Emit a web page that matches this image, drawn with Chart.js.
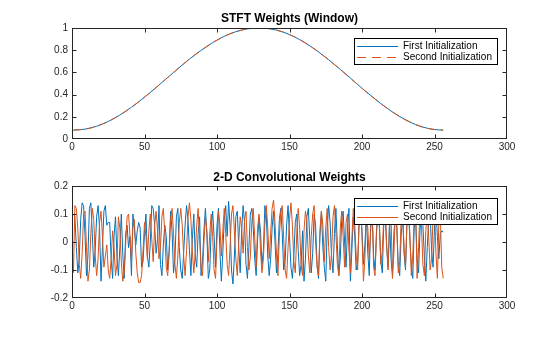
<!DOCTYPE html>
<html>
<head>
<meta charset="utf-8">
<script src="https://cdn.jsdelivr.net/npm/chart.js@4.4.1/dist/chart.umd.min.js"></script>
<style>
  html, body { margin: 0; padding: 0; background: #fff; }
  #wrap { position: relative; width: 560px; height: 337px; }
  canvas { position: absolute; left: 0; }
</style>
</head>
<body>
<div id="wrap">
  <canvas id="topChart" width="560" height="168" style="top:0"></canvas>
  <canvas id="bottomChart" width="560" height="169" style="top:168px"></canvas>
</div>
<script>
// window weights (sample index -> weight)
const windowX = [1, 9, 17, 25, 33, 41, 49, 57, 65, 73, 81, 89, 97, 105, 113, 121, 129,
  137, 145, 153, 161, 169, 177, 185, 193, 201, 209, 217, 225, 233, 241, 249, 256];
const windowVals = [0.08, 0.089, 0.115, 0.158, 0.216, 0.286, 0.366, 0.452, 0.543, 0.633, 0.72, 0.798, 0.868, 0.925, 0.967, 0.992, 1.0,
  0.992, 0.966, 0.923, 0.865, 0.794, 0.714, 0.627, 0.537, 0.446, 0.36, 0.28, 0.21, 0.153, 0.111, 0.087, 0.08];

// conv weights, first initialization (blue)
const convFirst = [
  0.10, 0.09, -0.02, -0.11, -0.06, 0.08, 0.14, 0.13, 0.02, -0.12, -0.05, 0.12, 0.14, 0.03, -0.09, -0.03,
  0.09, 0.13, 0.05, -0.14, -0.02, 0.11, 0.13, 0.06, 0.07, 0.07, -0.06, -0.13, 0.02, 0.09, -0.05, -0.12,
  -0.02, 0.10, -0.04, -0.13, 0.03, 0.06, -0.02, 0.02, -0.12, 0.10, 0.05, -0.01, 0.04, 0.07, 0.05, -0.09,
  -0.07, 0.03, 0.10, -0.05, -0.09, 0.00, 0.13, 0.12, 0.06, -0.04, 0.01, 0.13, -0.08, -0.12, -0.01, 0.06,
  0.02, -0.10, -0.03, 0.11, 0.04, -0.11, -0.06, 0.09, 0.12, -0.02, -0.10, -0.13, -0.04, 0.06, 0.13, 0.08,
  -0.03, -0.12, 0.01, 0.10, -0.05, -0.09, 0.03, 0.09, -0.12, -0.07, 0.04, 0.12, 0.03, -0.13, -0.10, 0.05,
  0.11, 0.02, -0.09, 0.06, 0.12, -0.03, -0.14, -0.04, 0.08, 0.13, 0.02, 0.145, 0.06, -0.10, -0.15, -0.05,
  0.09, 0.11, -0.02, -0.11, 0.04, 0.13, 0.07, -0.08, -0.13, -0.02, 0.10, 0.12, 0.05, -0.06, -0.12, 0.01,
  0.09, 0.04, -0.08, -0.03, 0.13, 0.10, -0.05, -0.12, -0.06, 0.05, 0.11, 0.00, -0.11, -0.04, 0.08, 0.12,
  0.03, -0.10, -0.07, 0.06, 0.13, 0.02, -0.09, -0.13, -0.05, 0.07, 0.10, -0.03, -0.12, -0.08, 0.04, -0.14,
  -0.06, 0.09, 0.12, 0.01, -0.11, -0.04, 0.10, 0.06, -0.08, -0.13, 0.02, 0.11, -0.02, -0.09, -0.14, 0.05,
  0.13, 0.07, -0.05, -0.11, 0.03, 0.12, -0.01, -0.12, -0.06, 0.08, 0.11, 0.00, -0.09, 0.05, 0.12, -0.14,
  -0.03, 0.09, 0.02, -0.10, -0.07, 0.06, 0.13, 0.04, -0.08, -0.01, 0.10, -0.04, -0.12, 0.07, 0.11, -0.05,
  -0.10, 0.04, 0.12, 0.05, -0.07, -0.11, 0.06, 0.10, -0.02, -0.09, 0.08, -0.06, -0.12, 0.03, 0.11, 0.06,
  -0.08, -0.12, 0.02, 0.10, -0.04, -0.10, 0.07, 0.12, 0.01, -0.08, -0.13, 0.05, 0.09, -0.06, -0.11, 0.04,
  0.12, 0.06, -0.05, -0.14, -0.02, 0.08, 0.10, -0.03, -0.09, 0.05, 0.12, 0.02, -0.06, 0.03, 0.04, 0.035
];

// conv weights, second initialization (orange)
const convSecond = [
  -0.11, 0.13, 0.12, 0.05, -0.08, -0.13, -0.04, 0.10, 0.11, -0.02, -0.14, -0.10, 0.03, 0.12, 0.08, -0.05,
  -0.12, -0.06, 0.07, 0.11, 0.02, -0.09, -0.05, -0.01, -0.10, -0.13, -0.06, 0.04, -0.02, -0.12, -0.08, 0.09,
  0.05, -0.07, -0.14, -0.11, -0.01, 0.09, 0.10, 0.02, -0.07, 0.05, 0.08, -0.04, -0.11, -0.145, -0.145, -0.12,
  -0.03, 0.07, 0.02, -0.06, 0.04, 0.10, 0.01, -0.07, 0.06, 0.11, 0.04, -0.06, -0.02, 0.09, 0.12, 0.03,
  -0.09, -0.12, -0.04, 0.08, 0.12, 0.03, -0.08, -0.13, -0.05, 0.07, 0.12, 0.06, -0.05, -0.12, -0.03, 0.09,
  0.14, 0.08, -0.03, -0.11, -0.04, 0.06, 0.12, 0.01, -0.09, -0.12, 0.00, 0.09, 0.04, -0.07, 0.03, 0.10,
  0.02, -0.10, -0.13, 0.01, 0.11, 0.06, -0.05, 0.04, 0.12, 0.03, -0.08, -0.12, -0.02, 0.10, 0.13, 0.04,
  -0.06, -0.12, 0.00, 0.09, 0.05, -0.04, 0.08, 0.11, -0.02, -0.10, -0.05, 0.07, 0.12, 0.02, -0.09, 0.05,
  0.10, -0.03, -0.11, -0.06, 0.06, 0.13, 0.05, -0.06, 0.03, 0.12, 0.15, 0.07, -0.04, -0.12, 0.02, 0.11,
  0.13, 0.01, -0.10, -0.13, -0.02, 0.08, 0.14, 0.06, -0.07, -0.11, 0.03, 0.12, 0.05, -0.08, -0.12, 0.04,
  0.11, 0.07, -0.05, -0.11, 0.02, 0.10, 0.13, 0.00, -0.09, -0.12, 0.04, 0.11, 0.06, -0.07, 0.05, 0.12,
  -0.02, -0.10, -0.04, 0.09, 0.13, 0.03, -0.08, -0.12, 0.05, 0.11, 0.02, -0.09, 0.07, 0.10, -0.03, -0.11,
  0.01, 0.12, 0.06, -0.05, -0.10, 0.08, 0.13, 0.02, -0.14, -0.06, 0.10, 0.05, -0.06, 0.04, 0.12, -0.09,
  -0.12, 0.03, 0.11, 0.07, -0.08, -0.03, 0.09, 0.13, -0.01, -0.10, 0.06, 0.10, -0.13, -0.04, 0.11, 0.05,
  -0.11, -0.07, 0.08, 0.12, -0.02, -0.09, 0.07, 0.13, 0.03, -0.12, -0.05, 0.09, 0.11, -0.13, -0.02, 0.12,
  0.06, -0.08, -0.12, 0.04, 0.11, 0.02, -0.10, -0.06, 0.09, 0.13, -0.04, -0.13, 0.07, 0.10, -0.09, -0.13
];

const xTicks = [0, 50, 100, 150, 200, 250, 300];
const topYTicks = [0, 0.2, 0.4, 0.6, 0.8, 1];
const bottomYTicks = [-0.2, -0.1, 0, 0.1, 0.2];
const seriesNames = ['First Initialization', 'Second Initialization'];

const BLUE = '#0072BD';
const ORANGE = '#D95319';
const AXIS = '#262626';
const FONT = '"Liberation Sans", Arial, Helvetica, sans-serif';

// sample index for the conv weights (1..256)
const convIdx = convFirst.map((v, i) => i + 1);

function toPoints(xs, ys) {
  return ys.map((y, i) => ({ x: xs[i], y: y }));
}

// draws matlab-style box, inward ticks, title and legend
function matlabAxes(title, titleY, legendTop, dashedSecond, yTicks) {
  return {
    id: 'matlabAxes',
    afterDatasetsDraw(chart) {
      const ctx = chart.ctx;
      const a = chart.chartArea;
      const xs = chart.scales.x;
      const ys = chart.scales.y;
      const L = Math.round(a.left) + 0.5, R = Math.round(a.right) - 0.5;
      const T = Math.round(a.top) + 0.5, B = Math.round(a.bottom) - 0.5;
      const clamp = (v, lo, hi) => Math.min(hi, Math.max(lo, v));
      ctx.save();
      ctx.strokeStyle = AXIS;
      ctx.lineWidth = 1;
      ctx.setLineDash([]);
      ctx.strokeRect(L, T, R - L, B - T);

      const tl = 4;
      ctx.beginPath();
      xTicks.forEach(t => {
        const px = clamp(Math.round(xs.getPixelForValue(t)) + 0.5, L, R);
        ctx.moveTo(px, B); ctx.lineTo(px, B - tl);
        ctx.moveTo(px, T); ctx.lineTo(px, T + tl);
      });
      yTicks.forEach(t => {
        const py = clamp(Math.round(ys.getPixelForValue(t)) + 0.5, T, B);
        ctx.moveTo(L, py); ctx.lineTo(L + tl, py);
        ctx.moveTo(R, py); ctx.lineTo(R - tl, py);
      });
      ctx.stroke();

      // title
      ctx.fillStyle = '#000';
      ctx.font = 'bold 12px ' + FONT;
      ctx.textAlign = 'center';
      ctx.textBaseline = 'middle';
      ctx.fillText(title, (a.left + a.right) / 2, titleY);

      // legend
      const lx = 354, lw = 143, lh = 26;
      ctx.fillStyle = '#fff';
      ctx.fillRect(lx, legendTop, lw, lh);
      ctx.strokeStyle = '#000';
      ctx.strokeRect(lx + 0.5, legendTop + 0.5, lw, lh);
      ctx.font = '10px ' + FONT;
      ctx.textAlign = 'left';
      const rows = [legendTop + 7.5, legendTop + 18.5];
      [BLUE, ORANGE].forEach((c, i) => {
        ctx.strokeStyle = c;
        ctx.setLineDash(i === 1 && dashedSecond ? [9, 6] : []);
        ctx.beginPath();
        ctx.moveTo(357, Math.round(rows[i]) + 0.5);
        ctx.lineTo(398, Math.round(rows[i]) + 0.5);
        ctx.stroke();
        ctx.fillStyle = '#000';
        ctx.fillText(seriesNames[i], 403, rows[i] + 0.5);
      });
      ctx.restore();
    }
  };
}

function fmt(v) {
  return String(Math.round(v * 100) / 100);
}

function xScale() {
  return {
    type: 'linear', min: 0, max: 300,
    afterBuildTicks: ax => { ax.ticks = xTicks.map(v => ({ value: v })); },
    ticks: { color: AXIS, font: { size: 10, family: FONT }, padding: 2, maxRotation: 0, callback: fmt },
    grid: { display: false, drawTicks: false },
    border: { display: false },
    afterFit: ax => { ax.height = 20; }
  };
}

function yScale(min, max, ticks) {
  return {
    type: 'linear', min: min, max: max,
    afterBuildTicks: ax => { ax.ticks = ticks.map(v => ({ value: v })); },
    ticks: { color: AXIS, font: { size: 10, family: FONT }, padding: 4, callback: fmt },
    grid: { display: false, drawTicks: false },
    border: { display: false },
    afterFit: ax => { ax.width = 72; }
  };
}

new Chart(document.getElementById('topChart'), {
  type: 'line',
  data: {
    datasets: [{
      label: seriesNames[0],
      data: toPoints(windowX, windowVals),
      borderColor: BLUE,
      borderWidth: 1,
      pointRadius: 0,
      cubicInterpolationMode: 'monotone',
      order: 1
    }, {
      label: seriesNames[1],
      data: toPoints(windowX, windowVals),
      borderColor: ORANGE,
      borderWidth: 1,
      borderDash: [8, 5],
      pointRadius: 0,
      cubicInterpolationMode: 'monotone',
      order: 0
    }]
  },
  options: {
    responsive: false,
    animation: false,
    devicePixelRatio: 1,
    layout: { padding: { left: 0, right: 53, top: 28, bottom: 9 } },
    plugins: { legend: { display: false }, tooltip: { enabled: false } },
    scales: { x: xScale(), y: yScale(0, 1, topYTicks) }
  },
  plugins: [matlabAxes('STFT Weights (Window)', 19, 38, true, topYTicks)]
});

new Chart(document.getElementById('bottomChart'), {
  type: 'line',
  data: {
    datasets: [{
      label: seriesNames[0],
      data: toPoints(convIdx, convFirst),
      borderColor: BLUE,
      borderWidth: 1,
      pointRadius: 0,
      order: 1
    }, {
      label: seriesNames[1],
      data: toPoints(convIdx, convSecond),
      borderColor: ORANGE,
      borderWidth: 1,
      pointRadius: 0,
      order: 0
    }]
  },
  options: {
    responsive: false,
    animation: false,
    devicePixelRatio: 1,
    layout: { padding: { left: 0, right: 53, top: 18, bottom: 19 } },
    plugins: { legend: { display: false }, tooltip: { enabled: false } },
    scales: { x: xScale(), y: yScale(-0.2, 0.2, bottomYTicks) }
  },
  plugins: [matlabAxes('2-D Convolutional Weights', 9.5, 30, false, bottomYTicks)]
});
</script>
</body>
</html>
